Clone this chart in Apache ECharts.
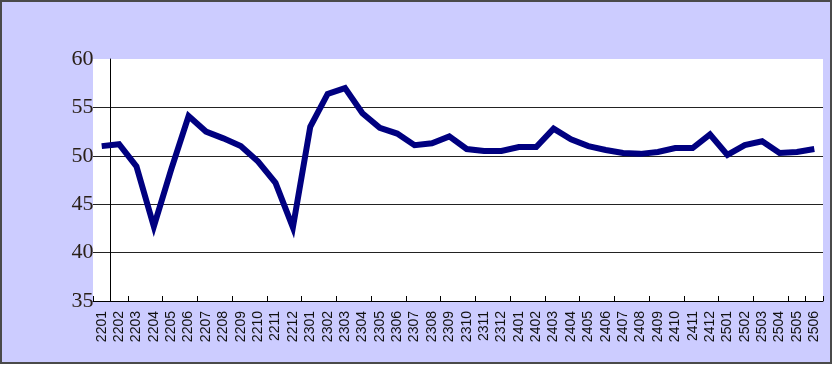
<!DOCTYPE html>
<html>
<head>
<meta charset="utf-8">
<script src="https://cdn.jsdelivr.net/npm/echarts@6/dist/echarts.min.js"></script>
<style>
  html, body { margin: 0; padding: 0; background: #fff; }
  #frame {
    position: absolute; left: 0; top: 0;
    width: 832px; height: 364px;
    box-sizing: border-box;
    border: 2px solid #4a4a4a;
    background: #ccccff;
  }
  #chart { width: 828px; height: 360px; }
</style>
</head>
<body>
<div id="frame"><div id="chart"></div></div>
<script>
var months = [
  "2201", "2202", "2203", "2204", "2205", "2206", "2207", "2208", "2209", "2210", "2211", "2212",
  "2301", "2302", "2303", "2304", "2305", "2306", "2307", "2308", "2309", "2310", "2311", "2312",
  "2401", "2402", "2403", "2404", "2405", "2406", "2407", "2408", "2409", "2410", "2411", "2412",
  "2501", "2502", "2503", "2504", "2505", "2506"
];
var values = [
  51.0, 51.2, 48.9, 42.7, 48.6, 54.1, 52.5, 51.8, 51.0, 49.4, 47.2, 42.6,
  53.0, 56.4, 57.0, 54.4, 52.9, 52.3, 51.1, 51.3, 52.0, 50.7, 50.5, 50.5,
  50.9, 50.9, 52.8, 51.7, 51.0, 50.6, 50.3, 50.2, 50.4, 50.8, 50.8, 52.2,
  50.1, 51.1, 51.5, 50.3, 50.4, 50.7
];
var yTicks = { min: 35, max: 60, step: 5 };

var chart = echarts.init(document.getElementById("chart"));
// y axis crosses between the first and second category
var catWidth = (828 - 91 - 7) / months.length;

var option = {
  animation: false,
  backgroundColor: "#ccccff",
  grid: {
    left: 91,
    right: 7,
    top: 57,
    bottom: 61,
    show: true,
    backgroundColor: "#ffffff",
    borderWidth: 0
  },
  xAxis: {
    type: "category",
    data: months,
    boundaryGap: true,
    axisLine: { lineStyle: { color: "#000", width: 1 } },
    axisTick: {
      show: true,
      interval: 1,
      inside: true,
      length: 5,
      lineStyle: { color: "#000" }
    },
    axisLabel: {
      interval: 0,
      rotate: 90,
      margin: 10,
      color: "#111",
      fontFamily: "Liberation Sans",
      fontSize: 14
    },
    splitLine: { show: false }
  },
  yAxis: {
    type: "value",
    min: yTicks.min,
    max: yTicks.max,
    interval: yTicks.step,
    offset: -catWidth,
    axisLine: { show: true, lineStyle: { color: "#000", width: 1 } },
    axisTick: { show: false },
    axisLabel: {
      margin: 17,
      color: "#2a2018",
      fontFamily: "Liberation Serif",
      fontSize: 22
    },
    splitLine: {
      show: true,
      showMaxLine: false,
      lineStyle: { color: "#222", width: 1 }
    }
  },
  series: [
    {
      type: "line",
      data: values,
      symbol: "none",
      lineStyle: { color: "#000080", width: 6, join: "miter" }
    }
  ]
};
chart.setOption(option);
</script>
</body>
</html>
